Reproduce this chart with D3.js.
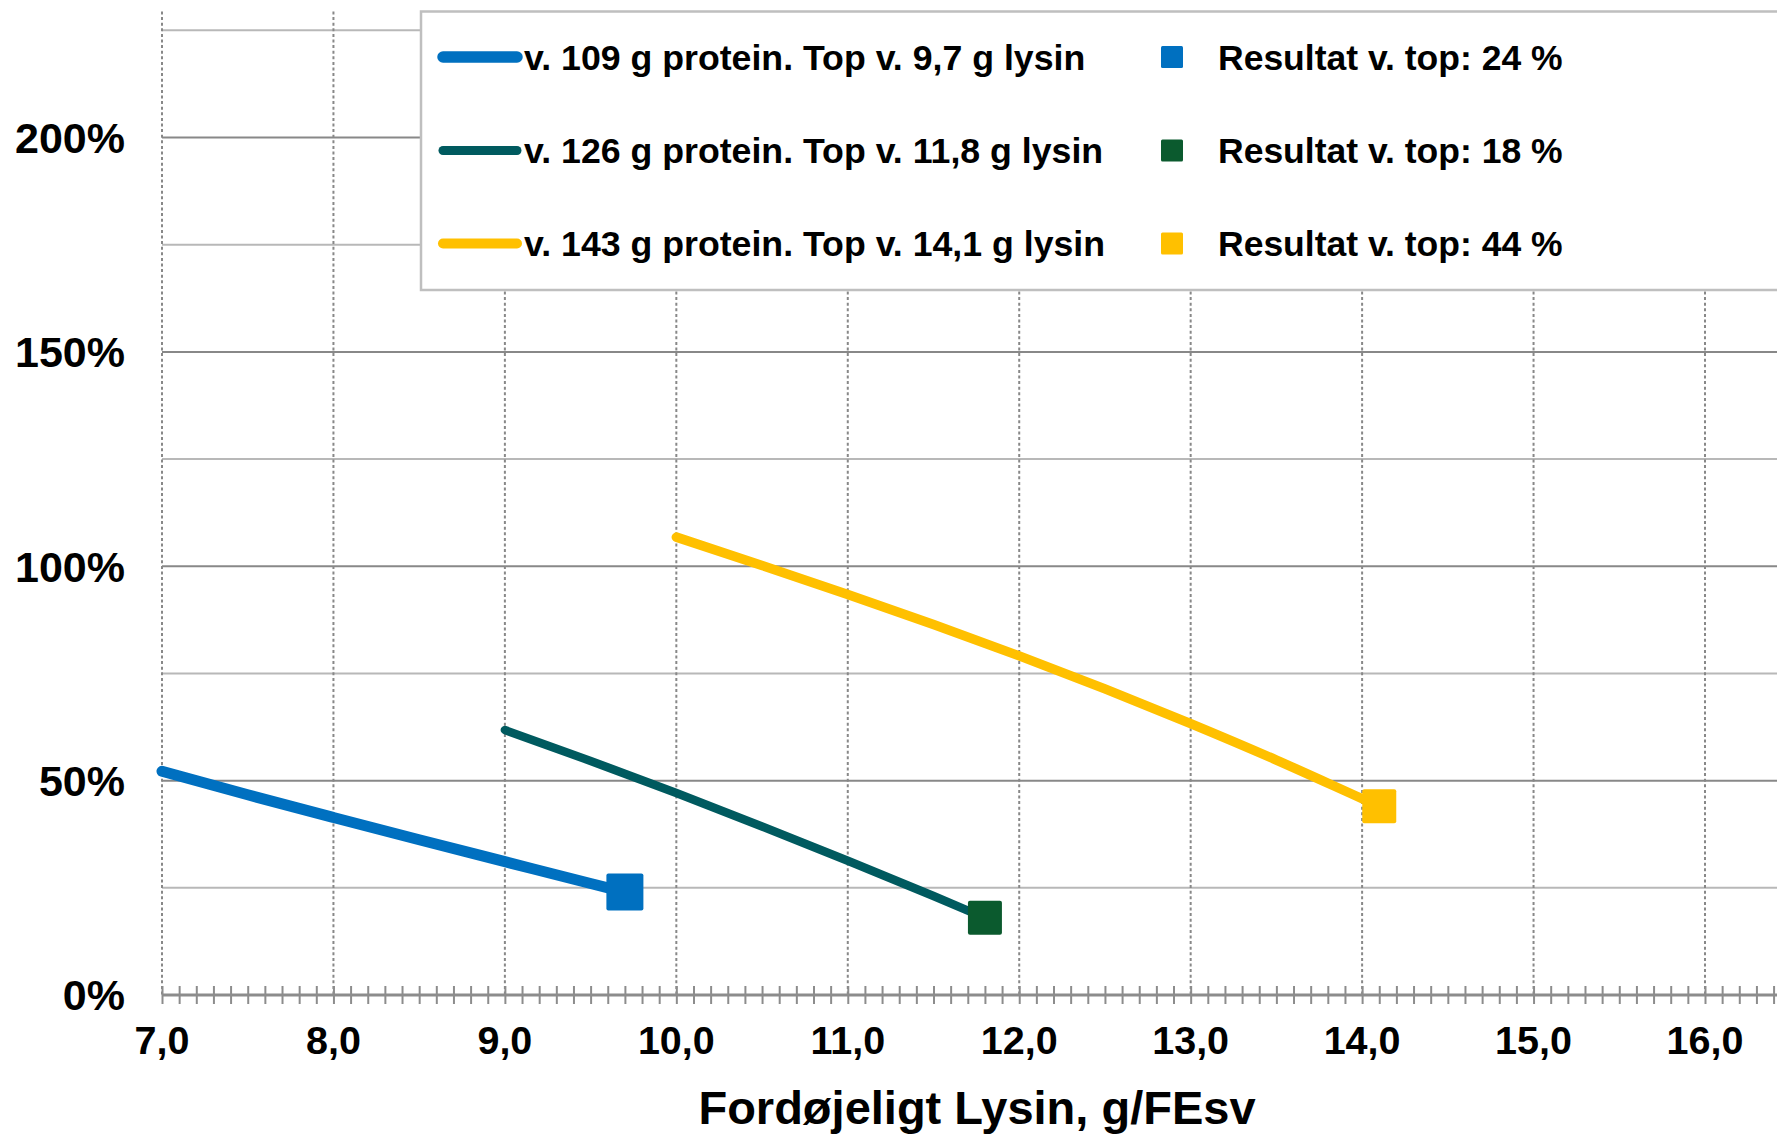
<!DOCTYPE html>
<html>
<head>
<meta charset="utf-8">
<script src="https://cdn.jsdelivr.net/npm/d3@7/dist/d3.min.js"></script>
<style>
  html, body { margin: 0; padding: 0; background: #fff; }
  svg { display: block; }
  text { font-family: "Liberation Sans", Arial, Helvetica, sans-serif; font-weight: bold; fill: #000; }
</style>
</head>
<body>
<svg id="chart" width="1777" height="1135"></svg>
<script>
// Lysine level (g/FEsv) along the x axis
const xTickValues = [7, 8, 9, 10, 11, 12, 13, 14, 15, 16];
const yTickValues = [0, 50, 100, 150, 200];
const yMinorValues = [25, 75, 125, 175, 225];

// Curves: response (%) at each lysine level for the three protein levels
const lysin109 = [7.0, 7.5, 8.0, 8.5, 9.0, 9.5, 9.7];
const result109 = [52.2, 46.7, 41.4, 36.2, 31.1, 26.0, 24];

const lysin126 = [9.0, 9.5, 10.0, 10.5, 11.0, 11.5, 11.8];
const result126 = [61.8, 54.6, 47.1, 39.3, 31.3, 23.1, 18];

const lysin143 = [10.0, 10.5, 11.0, 11.5, 12.0, 12.5, 13.0, 13.5, 14.0, 14.1];
const result143 = [106.8, 100.2, 93.4, 86.4, 79.1, 71.4, 63.3, 54.8, 45.8, 44];

// Top points (lysine, result)
const topLysin = [9.7, 11.8, 14.1];
const topResult = [24, 18, 44];

const lineLabels = [
  "v. 109 g protein. Top v. 9,7 g lysin",
  "v. 126 g protein. Top v. 11,8 g lysin",
  "v. 143 g protein. Top v. 14,1 g lysin"
];
const topLabels = [
  "Resultat v. top: 24 %",
  "Resultat v. top: 18 %",
  "Resultat v. top: 44 %"
];
const xTitle = "Fordøjeligt Lysin, g/FEsv";

// Styling
const lineColors = ["#0070C0", "#005A5F", "#FFC000"];
const markerColors = ["#0070C0", "#0B5A2E", "#FFC000"];
const lineWidths = [11, 8.5, 9.5];
const markerSizes = [37, 34, 34];

const series = [
  { x: lysin109, y: result109 },
  { x: lysin126, y: result126 },
  { x: lysin143, y: result143 }
];

const svg = d3.select("#chart");
const W = 1777;
const plot = { left: 162, right: 1777, top: 11.5, bottom: 995 };

const x = d3.scaleLinear().domain([7, 16.42]).range([plot.left, plot.right]);
const y = d3.scaleLinear().domain([0, 229.4]).range([plot.bottom, plot.top]);

// Horizontal gridlines: minor (light) and major (darker)
svg.append("g").selectAll("line").data(yMinorValues).join("line")
  .attr("x1", plot.left).attr("x2", W)
  .attr("y1", d => y(d)).attr("y2", d => y(d))
  .attr("stroke", "#b8b8b8").attr("stroke-width", 2);

svg.append("g").selectAll("line").data(yTickValues.filter(d => d > 0)).join("line")
  .attr("x1", plot.left).attr("x2", W)
  .attr("y1", d => y(d)).attr("y2", d => y(d))
  .attr("stroke", "#888").attr("stroke-width", 2);

// Vertical dotted gridlines
svg.append("g").selectAll("line").data(xTickValues).join("line")
  .attr("x1", d => x(d)).attr("x2", d => x(d))
  .attr("y1", plot.top).attr("y2", plot.bottom)
  .attr("stroke", "#888").attr("stroke-width", 2)
  .attr("stroke-dasharray", "3,2.6");

// Legend box (white, covers the grid)
const legend = svg.append("g");
legend.append("rect")
  .attr("x", 421).attr("y", 11.5)
  .attr("width", 1400).attr("height", 278.5)
  .attr("fill", "#fff").attr("stroke", "#bfbfbf").attr("stroke-width", 2.5);

const rowY = [57, 150.5, 243.5];
lineLabels.forEach((lab, i) => {
  legend.append("line")
    .attr("x1", 443).attr("x2", 517)
    .attr("y1", rowY[i]).attr("y2", rowY[i])
    .attr("stroke", lineColors[i]).attr("stroke-width", lineWidths[i] + 0.5)
    .attr("stroke-linecap", "round");
  legend.append("text")
    .attr("x", 524).attr("y", rowY[i] + 12.5)
    .attr("font-size", 35.7)
    .text(lab);
  legend.append("rect")
    .attr("x", 1161).attr("y", rowY[i] - 11)
    .attr("width", 22).attr("height", 22).attr("rx", 1.5)
    .attr("fill", markerColors[i]);
  legend.append("text")
    .attr("x", 1218).attr("y", rowY[i] + 12.5)
    .attr("font-size", 35.5)
    .text(topLabels[i]);
});

// X axis line with minor ticks every 0.1 crossing the axis
const xAxis = d3.axisBottom(x)
  .tickValues(d3.range(70, 165).map(v => v / 10))
  .tickSize(0)
  .tickFormat("");
const axisG = svg.append("g").attr("transform", `translate(0,${plot.bottom})`).call(xAxis);
axisG.select(".domain").remove();
axisG.selectAll(".tick line").remove();
axisG.selectAll(".tick").append("line")
  .attr("y1", -9).attr("y2", 9)
  .attr("stroke", "#8c8c8c").attr("stroke-width", 2);
axisG.append("line")
  .attr("x1", plot.left).attr("x2", W)
  .attr("y1", 0).attr("y2", 0)
  .attr("stroke", "#8c8c8c").attr("stroke-width", 3);

// X tick labels
svg.append("g").selectAll("text").data(xTickValues).join("text")
  .attr("x", d => x(d)).attr("y", 1054)
  .attr("text-anchor", "middle")
  .attr("font-size", 39.5)
  .text(d => d3.format(".1f")(d).replace(".", ","));

// Y tick labels
svg.append("g").selectAll("text").data(yTickValues).join("text")
  .attr("x", 125).attr("y", d => y(d))
  .attr("dy", "0.36em")
  .attr("text-anchor", "end")
  .attr("font-size", 43)
  .text(d => d + "%");

// X axis title
svg.append("text")
  .attr("x", 977).attr("y", 1124)
  .attr("text-anchor", "middle")
  .attr("font-size", 47)
  .text(xTitle);

// Curves
const line = d3.line().x(d => x(d[0])).y(d => y(d[1])).curve(d3.curveMonotoneX);
series.forEach((s, i) => {
  const pts = s.x.map((v, j) => [v, s.y[j]]);
  svg.append("path")
    .attr("d", line(pts))
    .attr("fill", "none")
    .attr("stroke", lineColors[i])
    .attr("stroke-width", lineWidths[i])
    .attr("stroke-linecap", "round")
    .attr("stroke-linejoin", "round");
});

// Top markers
svg.append("g").selectAll("rect").data(topLysin).join("rect")
  .attr("x", (d, i) => x(d) - markerSizes[i] / 2)
  .attr("y", (d, i) => y(topResult[i]) - markerSizes[i] / 2)
  .attr("width", (d, i) => markerSizes[i])
  .attr("height", (d, i) => markerSizes[i])
  .attr("rx", 2)
  .attr("fill", (d, i) => markerColors[i]);
</script>
</body>
</html>
